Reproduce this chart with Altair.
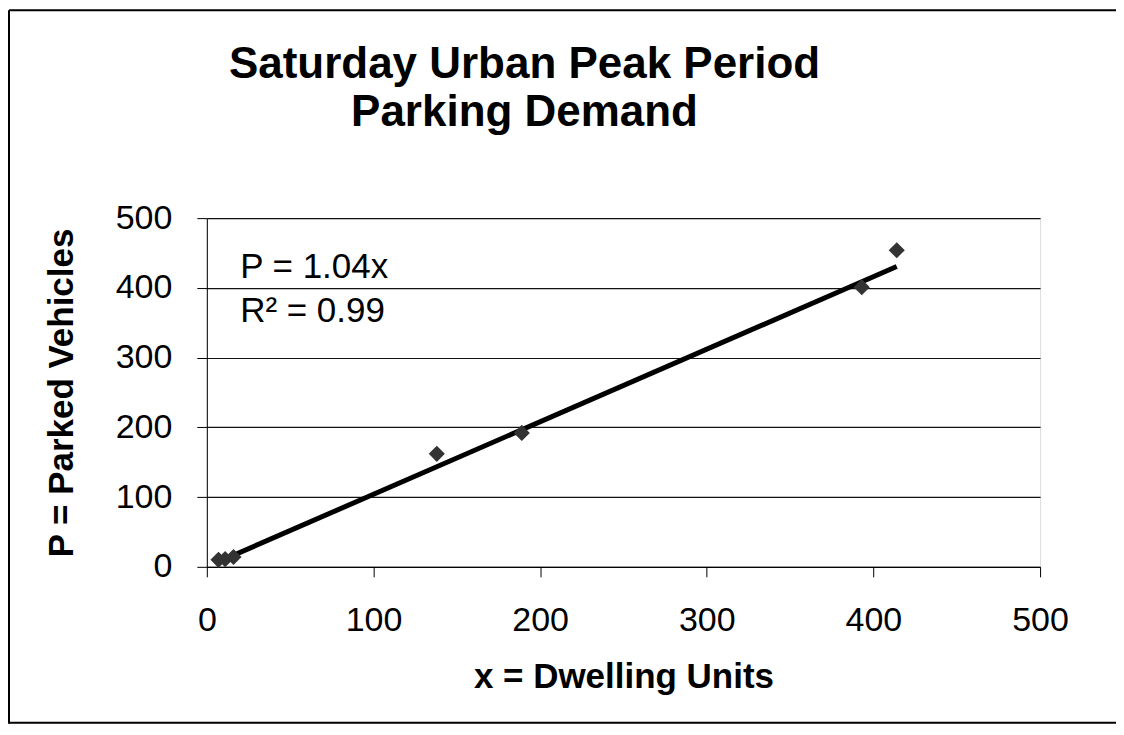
import altair as alt
import pandas as pd

# ---- data ----
title_lines = ["Saturday Urban Peak Period", "Parking Demand"]
x_title = "x = Dwelling Units"
y_title = "P = Parked Vehicles"
dwelling_units = [7, 11, 16, 138, 189, 393, 414]
parked_vehicles = [10, 11, 14, 162, 192, 401, 454]
slope = 1.04
equation_lines = ["P = 1.04x", "R² = 0.99"]
equation_x = [20, 20]
equation_y = [414, 351]
tick_values = [0, 100, 200, 300, 400, 500]

FONT = "Liberation Sans, Arial, Helvetica, sans-serif"
W, H = 834, 349
PAD_L, PAD_T, PAD_R, PAD_B = 199, 210, 76, 158

points = pd.DataFrame({"x": dwelling_units, "p": parked_vehicles})
trend = pd.DataFrame({"x": [min(dwelling_units), max(dwelling_units)]})
eq = pd.DataFrame({"x": equation_x, "p": equation_y, "label": equation_lines})

xscale = alt.Scale(domain=[0, 500], nice=False, zero=False)
yscale = alt.Scale(domain=[0, 500], nice=False, zero=False)

xaxis = alt.Axis(
    title=x_title, values=tick_values, grid=False, tickSize=10, labelPadding=27,
    labelFontSize=34, labelFont=FONT, labelColor="black",
    titleFontSize=35, titleFont=FONT, titleFontWeight="bold", titleColor="black",
    titlePadding=22, domainColor="black", tickColor="black", labelFlush=False,
)
yaxis = alt.Axis(
    title=y_title, values=tick_values, grid=True, gridColor="#111", gridWidth=1.2,
    tickSize=10, labelPadding=25, labelFontSize=34, labelFont=FONT, labelColor="black",
    titleFontSize=35, titleFont=FONT, titleFontWeight="bold", titleColor="black",
    titlePadding=36, domainColor="black", tickColor="black", labelFlush=False,
)

base_pts = alt.Chart(points).mark_point(
    shape="diamond", filled=True, size=260, color="#333", opacity=1
).encode(
    x=alt.X("x:Q", scale=xscale, axis=xaxis),
    y=alt.Y("p:Q", scale=yscale, axis=yaxis),
)

trend_line = alt.Chart(trend).transform_calculate(
    p=f"{slope} * datum.x"
).mark_line(color="black", strokeWidth=5).encode(
    x=alt.X("x:Q", scale=xscale),
    y=alt.Y("p:Q", scale=yscale),
)

eq_text = alt.Chart(eq).mark_text(
    align="left", baseline="alphabetic", fontSize=35, font=FONT, color="black"
).encode(
    x=alt.X("x:Q", scale=xscale),
    y=alt.Y("p:Q", scale=yscale),
    text="label:N",
)

one = pd.DataFrame({"k": [0]})
title_text = alt.Chart(one).mark_text(
    text="\n".join(title_lines), lineBreak="\n", lineHeight=48,
    align="center", baseline="alphabetic", fontSize=44, fontWeight="bold",
    font=FONT, color="black",
).encode(x=alt.value(318), y=alt.value(-140))

# outer frame: left, top and bottom edges (right edge lies beyond the picture)
frame_left = alt.Chart(one).mark_rule(color="black", strokeWidth=2).encode(
    x=alt.value(-PAD_L + 1), y=alt.value(-PAD_T + 2), y2=alt.value(H + PAD_B - 1)
)
frame_top = alt.Chart(one).mark_rule(color="black", strokeWidth=2).encode(
    x=alt.value(-PAD_L + 1), x2=alt.value(W + PAD_R + 5), y=alt.value(-PAD_T + 2)
)
frame_bottom = alt.Chart(one).mark_rule(color="black", strokeWidth=2).encode(
    x=alt.value(-PAD_L + 1), x2=alt.value(W + PAD_R + 5), y=alt.value(H + PAD_B - 2)
)

chart = alt.layer(
    frame_left, frame_top, frame_bottom, trend_line, base_pts, eq_text, title_text
).properties(
    width=W, height=H,
    autosize=alt.AutoSizeParams(type="none"),
    padding={"left": PAD_L, "top": PAD_T, "right": PAD_R, "bottom": PAD_B},
).configure_view(stroke="black", strokeWidth=1).configure(background="white")

chart.save("out.html", embed_options={"renderer": "svg", "actions": False})
